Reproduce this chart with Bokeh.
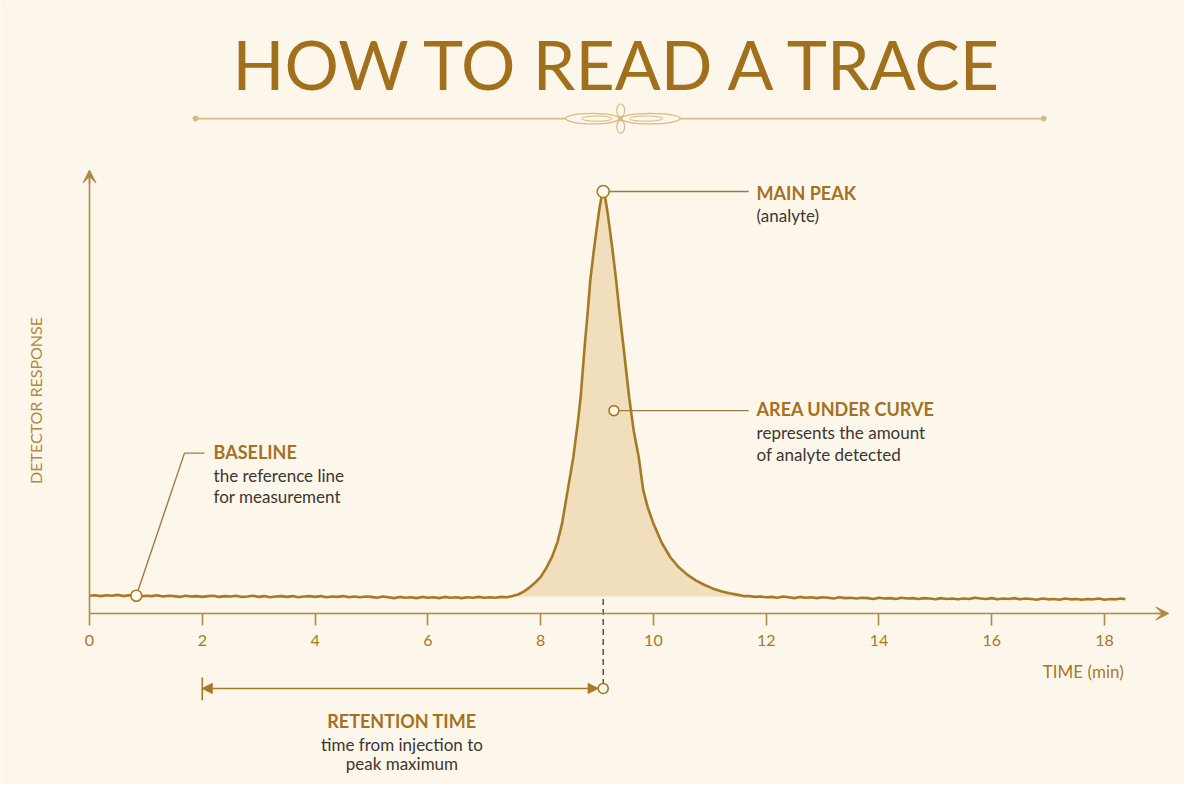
import math
from bokeh.plotting import figure
from bokeh.models import Range1d, Label, Arrow, VeeHead, NormalHead, FixedTicker
from bokeh.embed import file_html
from bokeh.resources import INLINE

# ---------------- data ----------------
baseline_time_left = [0.0, 0.1, 0.2, 0.3, 0.4, 0.5, 0.6, 0.7, 0.8, 0.9,
                      1.0, 1.1, 1.2, 1.3, 1.4, 1.5, 1.6, 1.7, 1.8, 1.9,
                      2.0, 2.1, 2.2, 2.3, 2.4, 2.5, 2.6, 2.7, 2.8, 2.9,
                      3.0, 3.1, 3.2, 3.3, 3.4, 3.5, 3.6, 3.7, 3.8, 3.9,
                      4.0, 4.1, 4.2, 4.3, 4.4, 4.5, 4.6, 4.7, 4.8, 4.9,
                      5.0, 5.1, 5.2, 5.3, 5.4, 5.5, 5.6, 5.7, 5.8, 5.9,
                      6.0, 6.1, 6.2, 6.3, 6.4, 6.5, 6.6, 6.7, 6.8, 6.9,
                      7.0, 7.1, 7.2, 7.3, 7.4]
baseline_resp_left = [0.2, 0.3, 0.1, 0.3, 0.2, 0.4, 0.1, 0.3, 0.2, 0.0,
                      0.2, 0.1, 0.3, 0.0, 0.2, 0.1, -0.1, 0.2, 0.0, 0.1,
                      -0.1, 0.1, 0.2, -0.1, 0.1, 0.0, 0.2, -0.1, 0.0, 0.2,
                      -0.1, 0.1, -0.2, 0.0, 0.1, -0.1, 0.1, -0.2, 0.0, 0.1,
                      -0.1, 0.1, -0.2, 0.0, -0.1, 0.1, -0.2, 0.0, -0.2, 0.0,
                      -0.1, -0.3, 0.0, -0.2, -0.4, -0.1, -0.3, -0.2, -0.4, -0.1,
                      -0.3, -0.2, -0.4, -0.1, -0.3, -0.2, -0.4, -0.2, -0.3, -0.1,
                      -0.3, -0.2, -0.3, -0.1, -0.2]
peak_time = [7.5, 7.6, 7.7, 7.8, 7.9, 8.0, 8.1, 8.2, 8.3, 8.38, 8.48, 8.58, 8.66,
             8.71, 8.78, 8.84, 8.88, 8.94, 8.99, 9.04, 9.08, 9.11, 9.14, 9.18,
             9.23, 9.28, 9.34, 9.40, 9.47, 9.57, 9.65, 9.74, 9.82, 9.90, 10.0,
             10.15, 10.30, 10.45, 10.6, 10.75, 10.9, 11.05, 11.2, 11.35, 11.5, 11.6]
peak_resp = [0.1, 0.5, 1.2, 2.2, 3.4, 4.8, 7.0, 9.7, 13.5, 18.0, 26.2, 34.4, 43.0,
             49.2, 61.6, 71.0, 78.0, 85.0, 90.4, 95.5, 98.8, 100.0, 98.8, 95.5,
             90.4, 85.0, 78.0, 70.0, 61.6, 49.2, 41.0, 34.4, 26.2, 22.0, 18.0,
             13.2, 9.7, 7.2, 5.4, 4.0, 2.9, 2.0, 1.3, 0.8, 0.4, 0.1]
baseline_time_right = [11.7, 11.8, 11.9, 12.0, 12.1, 12.2, 12.3, 12.4, 12.5, 12.6,
                       12.7, 12.8, 12.9, 13.0, 13.1, 13.2, 13.3, 13.4, 13.5, 13.6,
                       13.7, 13.8, 13.9, 14.0, 14.1, 14.2, 14.3, 14.4, 14.5, 14.6,
                       14.7, 14.8, 14.9, 15.0, 15.1, 15.2, 15.3, 15.4, 15.5, 15.6,
                       15.7, 15.8, 15.9, 16.0, 16.1, 16.2, 16.3, 16.4, 16.5, 16.6,
                       16.7, 16.8, 16.9, 17.0, 17.1, 17.2, 17.3, 17.4, 17.5, 17.6,
                       17.7, 17.8, 17.9, 18.0, 18.1, 18.2, 18.3, 18.37]
baseline_resp_right = [0.1, -0.1, 0.0, -0.2, -0.1, -0.3, 0.0, -0.2, -0.4, -0.1,
                       -0.3, -0.2, -0.4, -0.2, -0.3, -0.5, -0.2, -0.4, -0.3, -0.5,
                       -0.3, -0.4, -0.6, -0.3, -0.5, -0.4, -0.6, -0.3, -0.5, -0.4,
                       -0.6, -0.4, -0.5, -0.7, -0.4, -0.6, -0.5, -0.7, -0.5, -0.6,
                       -0.3, -0.5, -0.6, -0.4, -0.7, -0.5, -0.6, -0.4, -0.7, -0.5,
                       -0.6, -0.8, -0.5, -0.7, -0.6, -0.8, -0.5, -0.7, -0.6, -0.8,
                       -0.6, -0.7, -0.5, -0.8, -0.6, -0.7, -0.5, -0.7]

x_ticks = [0, 2, 4, 6, 8, 10, 12, 14, 16, 18]

peak_marker = (9.11, 100.0)
area_marker = (9.30, 45.9)
baseline_marker = (0.83, 0.2)
injection_time = 2.0

time = baseline_time_left + peak_time + baseline_time_right
response = baseline_resp_left + peak_resp + baseline_resp_right

# ---------------- style ----------------
BG = "#fdf6ea"
GOLD = "#a87924"
AXIS = "#b08a42"
LEADER = "#9c7c45"
LABEL = "#a3711f"
BODY = "#3b3630"
TITLE = "#a0701c"
ORN = "#d8bb82"
FONT = "Lato"
PX_PER_UNIT = 4.05          # vertical pixels per response unit
AX_Y = -4.2                 # x-axis position (response units)


def baseline_y(y, fs):
    """Label anchor so that the text's alphabetic baseline lands on y."""
    return y + 0.4 * fs / PX_PER_UNIT


p = figure(width=1184, height=784, output_backend="svg", toolbar_location=None,
           x_range=Range1d(-1.578, 19.418), y_range=Range1d(-46.42, 147.16),
           min_border=0, background_fill_color=BG, border_fill_color=BG,
           outline_line_color=None)
p.grid.visible = False

# x axis (real bokeh axis, fixed inside frame)
xa = p.xaxis[0]
xa.fixed_location = AX_Y
xa.bounds = (0, 19.05)
xa.ticker = FixedTicker(ticks=x_ticks)
xa.axis_line_color = AXIS
xa.axis_line_width = 1.6
xa.major_tick_line_color = AXIS
xa.major_tick_line_width = 1.6
xa.major_tick_out = 12
xa.major_tick_in = 0
xa.minor_tick_line_color = None
xa.major_label_text_font = FONT
xa.major_label_text_font_size = "16px"
xa.major_label_text_color = GOLD
xa.major_label_standoff = 9

ya = p.yaxis[0]
ya.fixed_location = 0
ya.bounds = (AX_Y, 104.0)
ya.ticker = FixedTicker(ticks=[])
ya.axis_line_color = AXIS
ya.axis_line_width = 1.6
ya.major_tick_line_color = None
ya.minor_tick_line_color = None

p.add_layout(Arrow(x_start=18.9, y_start=AX_Y, x_end=19.14, y_end=AX_Y,
                   line_color=AXIS, line_width=1.6,
                   end=VeeHead(size=13, fill_color=AXIS, line_color=AXIS)))
p.add_layout(Arrow(x_start=0, y_start=102.0, x_end=0, y_end=105.3,
                   line_color=AXIS, line_width=1.6,
                   end=VeeHead(size=13, fill_color=AXIS, line_color=AXIS)))

p.add_layout(Label(x=-0.958, y=48.4, text="DETECTOR RESPONSE", angle=math.pi / 2,
                   text_align="center", text_baseline="middle", text_font=FONT,
                   text_font_size="16px", text_color="#b08a3c"))
p.add_layout(Label(x=18.34, y=baseline_y(-20.2, 17), text="TIME (min)", text_align="right",
                   text_baseline="alphabetic", text_font=FONT,
                   text_font_size="17px", text_color=GOLD))

# ---------------- peak fill + trace ----------------
p.varea(x=peak_time, y1=[0.0] * len(peak_time), y2=peak_resp,
        fill_color="#ecd8b0", fill_alpha=0.8)
p.line(time, response, line_color=GOLD, line_width=2.6, line_join="round")

# ---------------- title ----------------
p.add_layout(Label(x=9.417, y=baseline_y(124.94, 68), text="HOW TO READ A TRACE",
                   text_align="center", text_baseline="alphabetic", text_font=FONT,
                   text_font_size="68px", text_color=TITLE))
# ornament rule
p.segment(x0=[1.88, 10.47], y0=[118.0, 118.0], x1=[8.44, 16.92], y1=[118.0, 118.0],
          line_color=ORN, line_width=1.6)
p.scatter([1.88, 16.92], [118.0, 118.0], size=5, marker="circle",
          fill_color=ORN, line_color=ORN)
p.ellipse(x=[8.92, 9.95], y=[118.0, 118.0], width=[0.95, 1.05], height=[2.6, 2.6],
          fill_color=None, line_color=ORN, line_width=1.4)
p.ellipse(x=[9.0, 9.87], y=[118.0, 118.0], width=[0.55, 0.6], height=[1.3, 1.3],
          fill_color=None, line_color=ORN, line_width=1.0)
p.ellipse(x=[9.42, 9.42], y=[120.0, 116.0], width=[0.14, 0.14], height=[3.2, 3.2],
          fill_color=None, line_color=ORN, line_width=1.2)
p.scatter([9.42], [118.0], size=5, marker="diamond", fill_color=ORN, line_color=ORN)

# ---------------- annotations ----------------
TX = 11.83
# main peak
p.line([peak_marker[0], 11.69], [peak_marker[1], peak_marker[1]], line_color=LEADER, line_width=1.4)
p.add_layout(Label(x=TX, y=baseline_y(97.8, 18), text="MAIN PEAK", text_font=FONT,
                   text_font_style="bold", text_font_size="18px", text_color=LABEL,
                   text_baseline="alphabetic"))
p.add_layout(Label(x=TX, y=baseline_y(92.4, 17), text="(analyte)", text_font=FONT,
                   text_font_size="17px", text_color=BODY, text_baseline="alphabetic"))

# area under curve
p.line([area_marker[0], 11.69], [area_marker[1], area_marker[1]], line_color=LEADER, line_width=1.4)
p.add_layout(Label(x=TX, y=baseline_y(44.4, 18), text="AREA UNDER CURVE", text_font=FONT,
                   text_font_style="bold", text_font_size="18px", text_color=LABEL,
                   text_baseline="alphabetic"))
p.add_layout(Label(x=TX, y=baseline_y(38.7, 17), text="represents the amount", text_font=FONT,
                   text_font_size="17px", text_color=BODY, text_baseline="alphabetic"))
p.add_layout(Label(x=TX, y=baseline_y(33.5, 17), text="of analyte detected", text_font=FONT,
                   text_font_size="17px", text_color=BODY, text_baseline="alphabetic"))

# baseline
p.line([baseline_marker[0], 1.685, 2.04], [baseline_marker[1], 35.4, 35.4],
       line_color=LEADER, line_width=1.4)
p.add_layout(Label(x=2.2, y=baseline_y(34.0, 18), text="BASELINE", text_font=FONT,
                   text_font_style="bold", text_font_size="18px", text_color=LABEL,
                   text_baseline="alphabetic"))
p.add_layout(Label(x=2.2, y=baseline_y(28.2, 17), text="the reference line", text_font=FONT,
                   text_font_size="17px", text_color=BODY, text_baseline="alphabetic"))
p.add_layout(Label(x=2.2, y=baseline_y(23.0, 17), text="for measurement", text_font=FONT,
                   text_font_size="17px", text_color=BODY, text_baseline="alphabetic"))

# retention time
RT_Y = -22.7
p.line([peak_marker[0], peak_marker[0]], [-0.6, RT_Y], line_color="#555048",
       line_width=1.5, line_dash="6 4")
p.add_layout(Arrow(x_start=injection_time, y_start=RT_Y, x_end=peak_marker[0] - 0.09, y_end=RT_Y,
                   line_color=GOLD, line_width=1.6,
                   start=NormalHead(size=10, fill_color=GOLD, line_color=GOLD),
                   end=NormalHead(size=10, fill_color=GOLD, line_color=GOLD)))
p.line([injection_time, injection_time], [-20.0, -25.6], line_color=GOLD, line_width=1.6)
p.add_layout(Label(x=5.54, y=baseline_y(-32.4, 18), text="RETENTION TIME", text_align="center",
                   text_font=FONT, text_font_style="bold", text_font_size="18px",
                   text_color=LABEL, text_baseline="alphabetic"))
p.add_layout(Label(x=5.54, y=baseline_y(-38.2, 17), text="time from injection to",
                   text_align="center", text_font=FONT, text_font_size="17px",
                   text_color=BODY, text_baseline="alphabetic"))
p.add_layout(Label(x=5.54, y=baseline_y(-42.8, 17), text="peak maximum", text_align="center",
                   text_font=FONT, text_font_size="17px", text_color=BODY,
                   text_baseline="alphabetic"))

# markers on top
p.scatter([peak_marker[0], area_marker[0], baseline_marker[0], peak_marker[0]],
          [peak_marker[1], area_marker[1], baseline_marker[1], RT_Y],
          size=[12, 10, 11, 10], marker="circle", fill_color="#fffaf0",
          line_color=GOLD, line_width=1.6)

open("out.html", "w").write(file_html(p, INLINE))
